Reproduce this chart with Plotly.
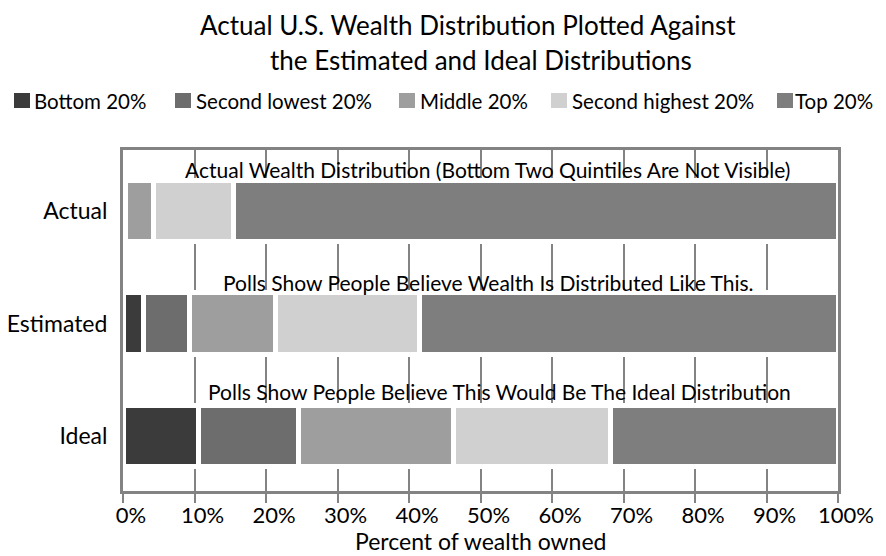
import plotly.graph_objects as go

# ---------------- data ----------------
categories = ["Actual", "Estimated", "Ideal"]
series_names = ["Bottom 20%", "Second lowest 20%", "Middle 20%", "Second highest 20%", "Top 20%"]
bottom_20 = [0.1, 2.9, 10.5]
second_lowest_20 = [0.2, 6.4, 14.1]
middle_20 = [3.9, 12.0, 21.6]
second_highest_20 = [11.3, 20.2, 22.0]
top_20 = [84.5, 58.5, 31.8]

bar_notes = [
    "Actual Wealth Distribution (Bottom Two Quintiles Are Not Visible)",
    "Polls Show People Believe Wealth Is Distributed Like This.",
    "Polls Show People Believe This Would Be The Ideal Distribution",
]
note_x = [51.0, 51.1, 52.7]

x_tick_values = [0, 10, 20, 30, 40, 50, 60, 70, 80, 90, 100]
x_tick_labels = ["0%", "10%", "20%", "30%", "40%", "50%", "60%", "70%", "80%", "90%", "100%"]

title_line1 = "Actual U.S. Wealth Distribution Plotted Against"
title_line2 = "the Estimated and Ideal Distributions"
x_title = "Percent of wealth owned"

# ---------------- style ----------------
FONT = "Lato, 'Open Sans', sans-serif"
colors = ["#3b3b3b", "#6d6d6d", "#9e9e9e", "#d0d0d0", "#7e7e7e"]
series_values = [bottom_20, second_lowest_20, middle_20, second_highest_20, top_20]
note_shift = [41, 41, 44]

OFF = 8  # page body margin offset
W, H = 886 - 2 * OFF, 556 - OFF
L, R, T, B = 123 - OFF, 838 - OFF, 150 - OFF, 491 - OFF


def px_x(px):
    """reference pixel x -> paper x"""
    return (px - OFF - L) / (R - L)


def px_y(py):
    """reference pixel y -> paper y"""
    return (B - (py - OFF)) / (B - T)


fig = go.Figure()
for name, vals, col in zip(series_names, series_values, colors):
    fig.add_trace(go.Bar(
        y=categories, x=vals, name=name, orientation="h",
        marker=dict(color=col, line=dict(color="white", width=5)),
        width=0.55, showlegend=False,
    ))

for cat, note, nx, sh in zip(categories, bar_notes, note_x, note_shift):
    fig.add_annotation(x=nx, y=cat, text=note, showarrow=False,
                       xref="x", yref="y", yshift=sh,
                       font=dict(family=FONT, size=21, color="black"))

# titles
fig.add_annotation(text=title_line1, xref="paper", yref="paper",
                   x=px_x(468), y=px_y(25), xanchor="center", yanchor="middle",
                   showarrow=False, borderpad=0,
                   font=dict(family=FONT, size=26, color="black"))
fig.add_annotation(text=title_line2, xref="paper", yref="paper",
                   x=px_x(481), y=px_y(60), xanchor="center", yanchor="middle",
                   showarrow=False, borderpad=0,
                   font=dict(family=FONT, size=26, color="black"))

# x-axis title
fig.add_annotation(text=x_title, xref="paper", yref="paper",
                   x=px_x(480), y=px_y(541), xanchor="center", yanchor="middle",
                   showarrow=False, borderpad=0,
                   font=dict(family=FONT, size=23, color="black"))

# legend (swatches + labels)
legend_square_left = [14, 175, 399, 551, 777]
legend_text_x = [34, 196, 420, 572, 875]
legend_text_anchor = ["left", "left", "left", "left", "right"]
for name, col, sq, tx, anc in zip(series_names, colors, legend_square_left,
                                  legend_text_x, legend_text_anchor):
    fig.add_shape(type="rect", xref="paper", yref="paper",
                  x0=px_x(sq), x1=px_x(sq + 16), y0=px_y(108), y1=px_y(93),
                  fillcolor=col, line=dict(width=0))
    fig.add_annotation(text=name, xref="paper", yref="paper",
                       x=px_x(tx - 1), y=px_y(101), xanchor=anc, yanchor="middle",
                       showarrow=False, borderpad=0,
                       font=dict(family=FONT, size=20.5, color="black"))

axis_col = "#838383"
fig.update_layout(
    width=W, height=H,
    margin=dict(l=L, r=W - R, t=T, b=H - B, autoexpand=False),
    barmode="stack",
    showlegend=False,
    plot_bgcolor="white", paper_bgcolor="white",
    font=dict(family=FONT, color="black"),
    xaxis=dict(range=[0, 100], tickvals=x_tick_values, ticktext=x_tick_labels,
               showgrid=True, gridcolor=axis_col, gridwidth=2,
               showline=True, linecolor=axis_col, linewidth=3, mirror=True,
               ticks="outside", ticklen=9, tickwidth=2, tickcolor=axis_col,
               ticklabelshift=8, ticklabelstandoff=-6,
               tickfont=dict(family=FONT, size=22, color="black"),
               zeroline=False, fixedrange=True, automargin=False),
    yaxis=dict(range=[2.489, -0.542], type="category",
               showgrid=False, showline=True, linecolor=axis_col, linewidth=3, mirror=True,
               ticks="", ticklabelstandoff=8,
               tickfont=dict(family=FONT, size=23, color="black"),
               fixedrange=True, automargin=False),
)

fig.write_html("out.html")
